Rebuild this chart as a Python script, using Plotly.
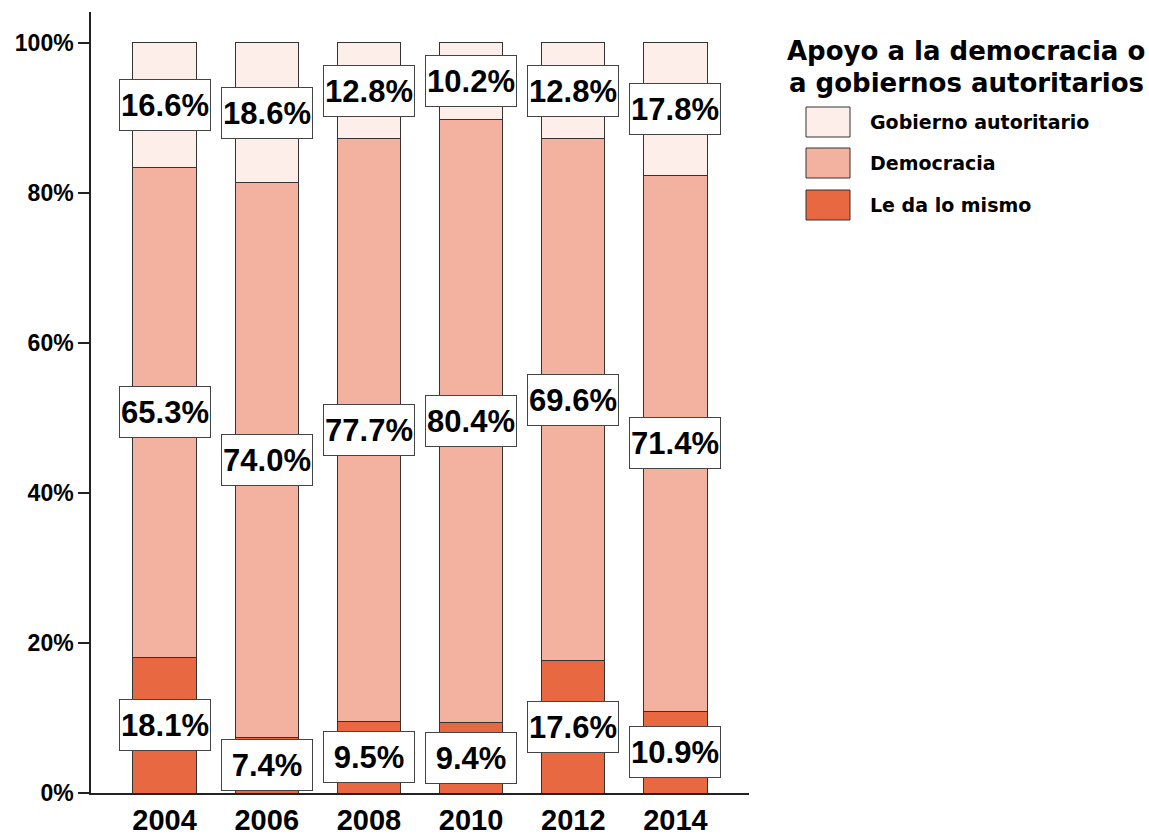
import plotly.graph_objects as go

years = ["2004", "2006", "2008", "2010", "2012", "2014"]
le_da_lo_mismo = [18.1, 7.4, 9.5, 9.4, 17.6, 10.9]
democracia = [65.3, 74.0, 77.7, 80.4, 69.6, 71.4]
gobierno_autoritario = [16.6, 18.6, 12.8, 10.2, 12.8, 17.8]

series = [
    ("Le da lo mismo", le_da_lo_mismo, "#E86842"),
    ("Democracia", democracia, "#F3B2A0"),
    ("Gobierno autoritario", gobierno_autoritario, "#FDEEEA"),
]
legend_title = ["Apoyo a la democracia o", "a gobiernos autoritarios"]

W, H = 1149, 836
L, R, T, B = 91, 400, 12, 43
FONT = "Liberation Sans, Arial, sans-serif"
WIDE = "DejaVu Sans, sans-serif"


def px(x):
    return (x - L) / (W - L - R)


def py(y):
    return (H - B - y) / (H - T - B)


fig = go.Figure()
for name, vals, col in series:
    fig.add_trace(go.Bar(
        x=years, y=vals, name=name, width=0.62,
        marker=dict(color=col, line=dict(color="#333333", width=1)),
        showlegend=False,
    ))

# value labels at segment midpoints
annotations = []
base = [0.0] * len(years)
for name, vals, col in series:
    for i, (yr, v) in enumerate(zip(years, vals)):
        annotations.append(dict(
            x=i, y=base[i] + v / 2, xref="x", yref="y",
            text=f"<b>{v:.1f}%</b>", showarrow=False,
            font=dict(family=FONT, size=31, color="black"),
            bgcolor="white", bordercolor="#444444", borderwidth=1,
            borderpad=1, width=88, height=48,
        ))
        base[i] += v

# manual legend
shapes = []
for k, line in enumerate(legend_title):
    annotations.append(dict(
        xref="paper", yref="paper", x=px(966), y=py(51 + 32 * k),
        text=f"<b>{line}</b>", showarrow=False, xanchor="center", yanchor="middle",
        font=dict(family=WIDE, size=26, color="black"),
    ))
key_y = [122, 163, 205]
for (name, vals, col), ky in zip(series[::-1], key_y):
    shapes.append(dict(
        type="rect", xref="paper", yref="paper",
        x0=px(806), x1=px(850), y0=py(ky - 15), y1=py(ky + 15),
        fillcolor=col, line=dict(color="#333333", width=1),
    ))
    annotations.append(dict(
        xref="paper", yref="paper", x=px(868), y=py(ky),
        text=f"<b>{name}</b>", showarrow=False, xanchor="left", yanchor="middle",
        font=dict(family=WIDE, size=19, color="black"),
    ))

fig.update_layout(
    barmode="stack",
    width=W, height=H,
    margin=dict(l=L, r=R, t=T, b=B, autoexpand=False),
    plot_bgcolor="white",
    paper_bgcolor="white",
    annotations=annotations,
    shapes=shapes,
    showlegend=False,
    xaxis=dict(
        type="category", range=[-0.72, 5.72],
        showline=True, linecolor="#222222", linewidth=1.5,
        showgrid=False, zeroline=False, ticks="",
        tickfont=dict(family=FONT, size=29, color="black", weight="bold"),
    ),
    yaxis=dict(
        range=[0, 104.1],
        tickvals=[0, 20, 40, 60, 80, 100],
        ticktext=[f"{v}%" for v in [0, 20, 40, 60, 80, 100]],
        showline=True, linecolor="#222222", linewidth=1.5,
        showgrid=False, zeroline=False,
        ticks="outside", ticklen=11, tickwidth=1.5, tickcolor="#222222",
        tickfont=dict(family=FONT, size=23, color="black", weight="bold"),
    ),
)

fig.write_html(
    "out.html",
    config={"displayModeBar": False},
    post_script="document.body.style.margin='0';",
)
